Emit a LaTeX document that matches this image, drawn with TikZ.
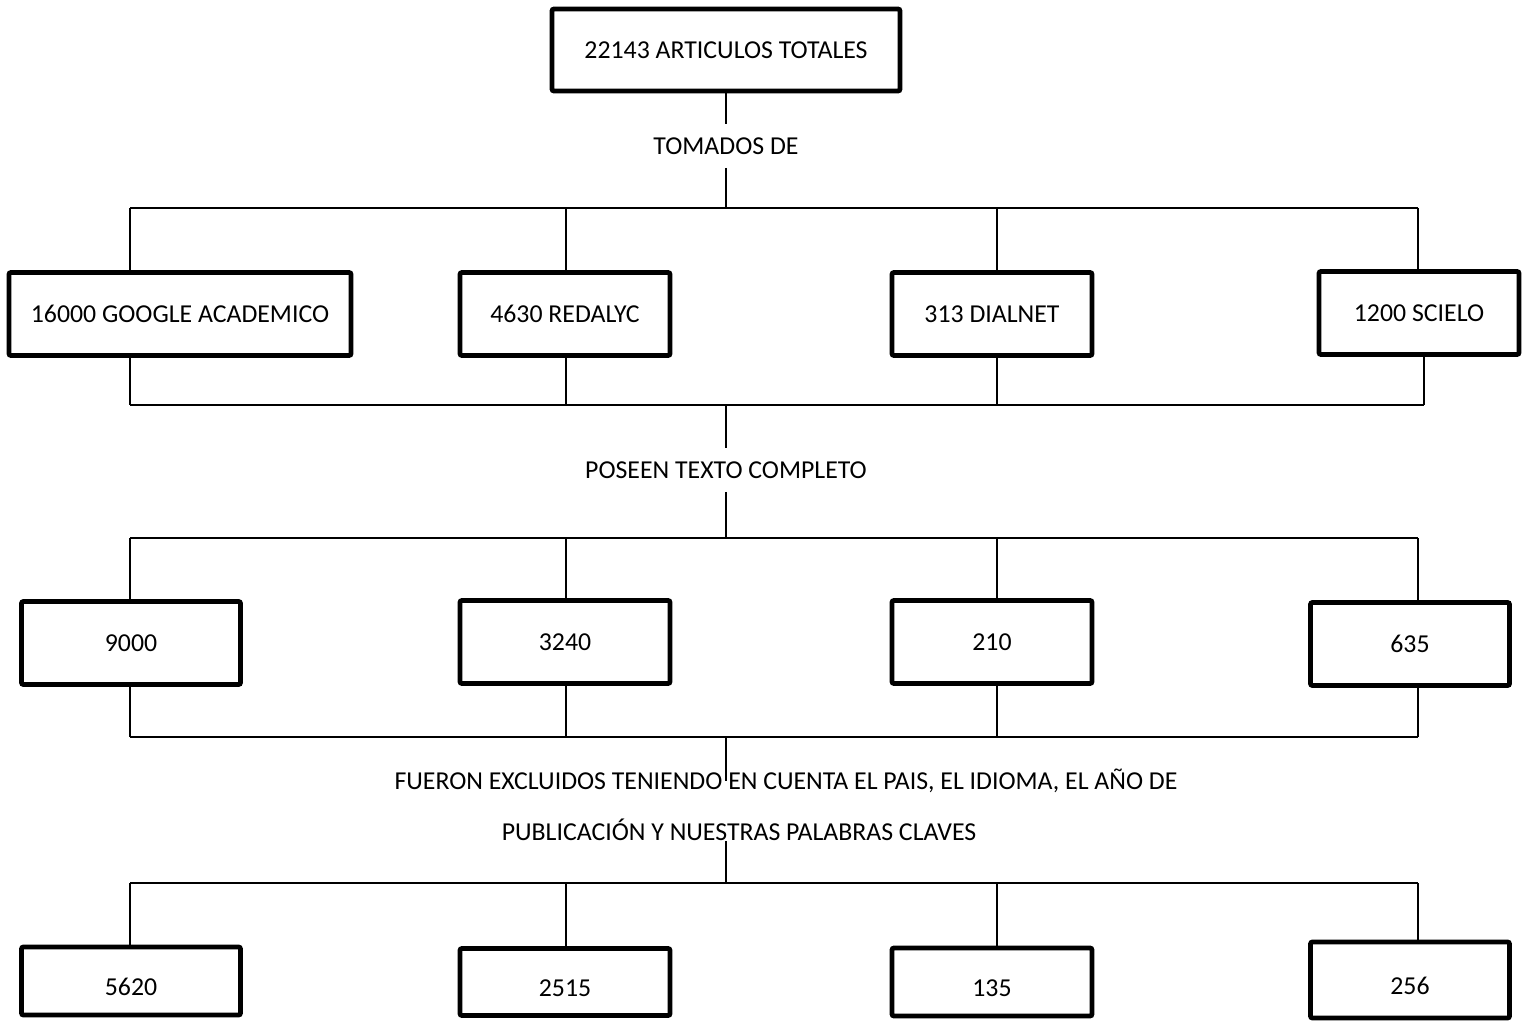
\documentclass[tikz,border=0pt]{standalone}
\usepackage{fontspec}
\setmainfont{Carlito}
\usetikzlibrary{positioning}
\tikzset{caja/.style={draw,line width=2.4pt,rounded corners=1pt,inner sep=0pt,font=\fontsize{12.9}{15}\selectfont}}
\tikzset{fila/.style={caja,minimum height=41.5pt}}
\tikzset{final/.style={caja,text height=14pt,text depth=0pt}}
\tikzset{rotulo/.style={inner xsep=2pt,inner ysep=6.5pt,font=\fontsize{12.9}{15}\selectfont}}
\tikzset{linea/.style={line width=0.7pt}}

\begin{document}
\begin{tikzpicture}[x=0.5pt,y=-0.5pt]
    \useasboundingbox (0,0) rectangle (1530,1026);
        \node[caja,minimum width=174pt,minimum height=41pt] (total) at (726,50) {22143 ARTICULOS TOTALES};
        \node[rotulo] (tomados) at (726,146) {TOMADOS DE};
        % fuentes
        \node[fila,minimum width=171pt] (google) at (180,314) {16000 GOOGLE ACADEMICO};
        \node[fila,minimum width=105pt] (redalyc) at (565,314) {4630 REDALYC};
        \node[fila,minimum width=100pt] (dialnet) at (992,314) {313 DIALNET};
        \node[fila,minimum width=100pt] (scielo) at (1419,313) {1200 SCIELO};
        \node[rotulo] (poseen) at (726,470) {POSEEN TEXTO COMPLETO};
        % texto completo
        \node[fila,minimum width=109.5pt] (9000) at (131,643) {9000};
        \node[fila,minimum width=105pt] (3240) at (565,642) {3240};
        \node[fila,minimum width=100pt] (210) at (992,642) {210};
        \node[fila,minimum width=99.5pt] (635) at (1410,644) {635};
        \node[inner sep=0pt,font=\fontsize{12.9}{15}\selectfont] (excl1) at (786,781) {FUERON EXCLUIDOS TENIENDO EN CUENTA EL PAIS, EL IDIOMA, EL AÑO DE};
        \node[inner sep=0pt,font=\fontsize{12.9}{15}\selectfont] (excl2) at (739,830) {PUBLICACIÓN Y NUESTRAS PALABRAS CLAVES};
        % seleccionados
        \node[final,minimum width=109.5pt,minimum height=34pt] (5620) at (131,981) {5620};
        \node[final,minimum width=105pt,minimum height=33.5pt] (2515) at (565,982) {2515};
        \node[final,minimum width=100pt,minimum height=34pt] (135) at (992,982) {135};
        \node[final,minimum width=99.5pt,minimum height=38pt] (256) at (1410,980) {256};
        \coordinate (c1) at (130,0);
        \coordinate (c2) at (566,0);
        \coordinate (c3) at (997,0);
        \coordinate (c4) at (1418,0);
        \coordinate (c5) at (1424,0);
        \coordinate (b1) at (726,208);
        \coordinate (b2) at (726,405);
        \coordinate (b3) at (726,538);
        \coordinate (b4) at (726,737);
        \coordinate (b5) at (726,883);
            \draw[linea] (total) -- (tomados);
            \draw[linea] (tomados) -- (b1);
            \draw[linea] (b1 -| c1) -- (b1 -| c4);
        \foreach \n/\c in {google/c1,redalyc/c2,dialnet/c3,scielo/c4}
            \draw[linea] (b1 -| \c) -- (\n.north -| \c);
        \foreach \n/\c in {google/c1,redalyc/c2,dialnet/c3,scielo/c5}
            \draw[linea] (\n.south -| \c) -- (b2 -| \c);
            \draw[linea] (b2 -| c1) -- (b2 -| c5);
            \draw[linea] (b2) -- (poseen);
            \draw[linea] (poseen) -- (b3);
            \draw[linea] (b3 -| c1) -- (b3 -| c4);
        \foreach \n/\c in {9000/c1,3240/c2,210/c3,635/c4}
            \draw[linea] (b3 -| \c) -- (\n.north -| \c);
        \foreach \n/\c in {9000/c1,3240/c2,210/c3,635/c4}
            \draw[linea] (\n.south -| \c) -- (b4 -| \c);
            \draw[linea] (b4 -| c1) -- (b4 -| c4);
            \draw[linea] (b4) -- (excl1.center -| b4);
            \draw[linea] (excl2.south -| b5) -- (b5);
            \draw[linea] (b5 -| c1) -- (b5 -| c4);
        \foreach \n/\c in {5620/c1,2515/c2,135/c3,256/c4}
            \draw[linea] (b5 -| \c) -- (\n.north -| \c);
    \end{tikzpicture}
\end{document}
